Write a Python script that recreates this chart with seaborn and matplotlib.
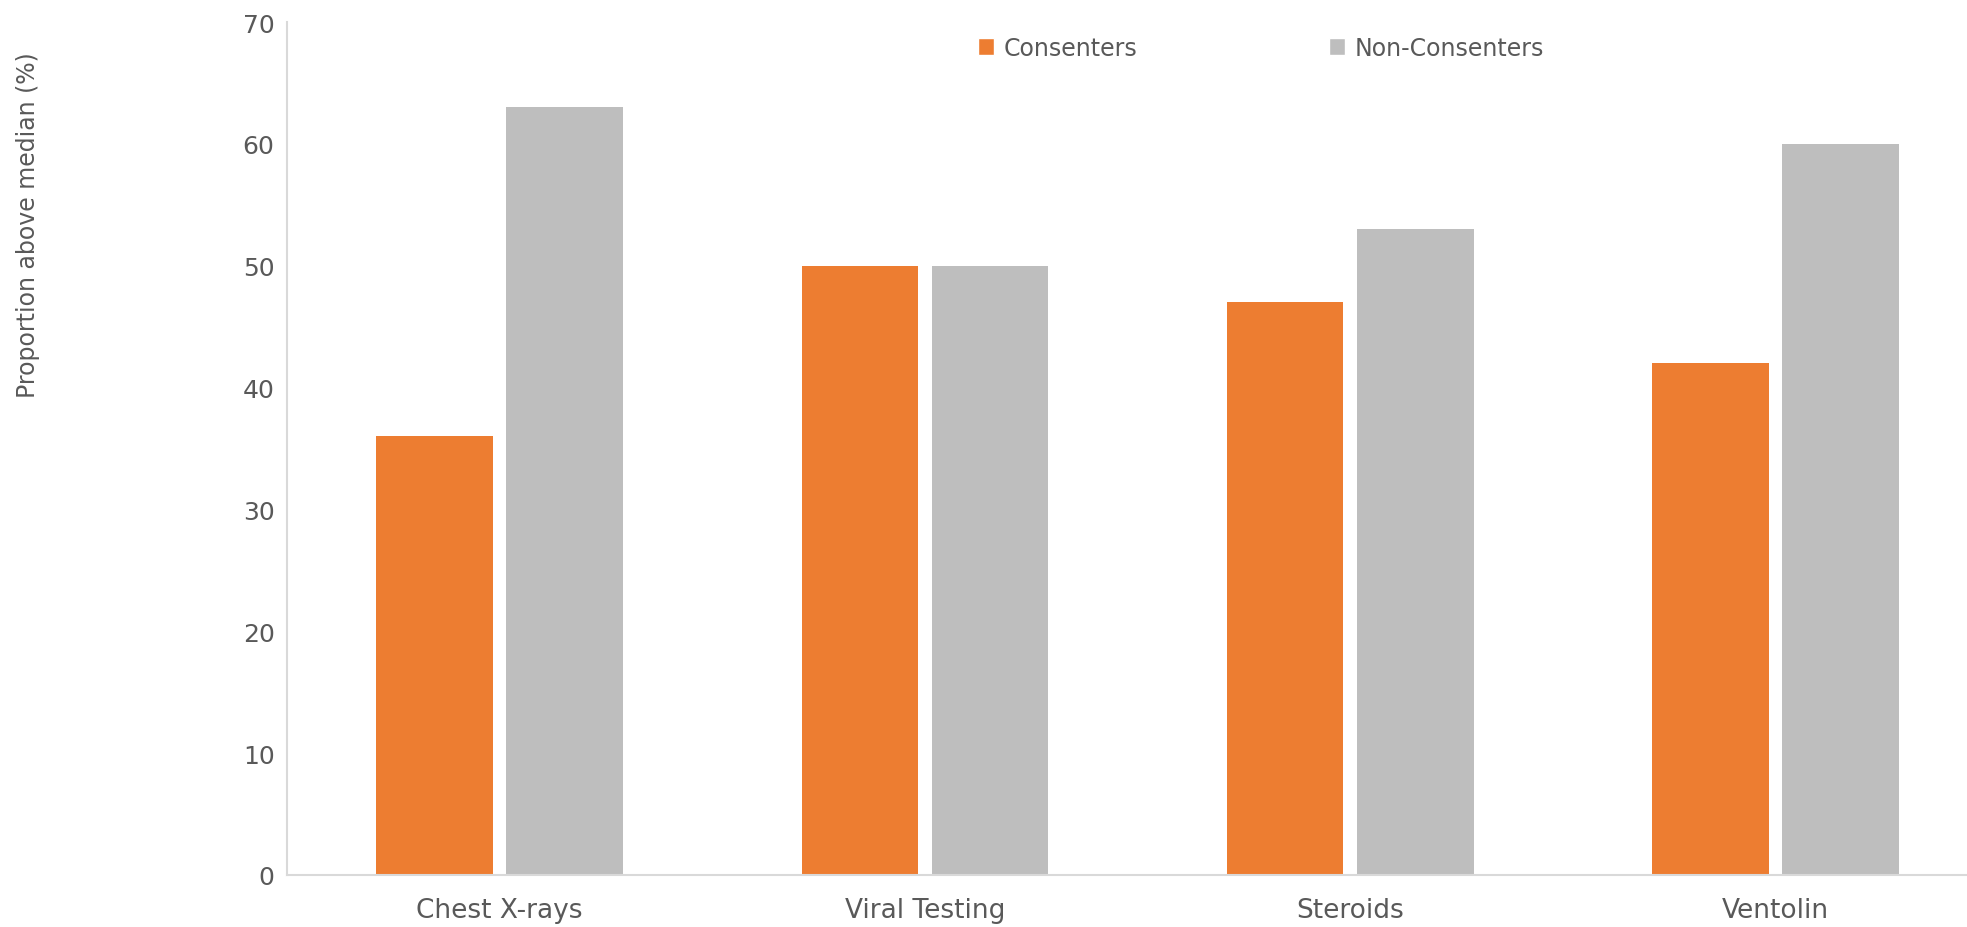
import matplotlib
matplotlib.use("Agg")
import matplotlib.pyplot as plt
from matplotlib.patches import Patch
import seaborn as sns
import pandas as pd

# chart data
categories = ["Chest X-rays", "Viral Testing", "Steroids", "Ventolin"]
consenters = [36, 50, 47, 42]
non_consenters = [63, 50, 53, 60]
groups = ["Consenters", "Non-Consenters"]
y_ticks = [0, 10, 20, 30, 40, 50, 60, 70]

ORANGE = "#ED7D31"
GREY = "#BEBEBE"
TEXT = "#595959"

sns.set_theme(style="white")
plt.rcParams["font.family"] = ["DejaVu Sans"]

df = pd.DataFrame({
    "category": categories * 2,
    "value": consenters + non_consenters,
    "group": [groups[0]] * len(categories) + [groups[1]] * len(categories),
})

fig = plt.figure(figsize=(19.67, 9.28), dpi=100)
ax = fig.add_axes([287 / 1967, 52 / 928, 1 - 287 / 1967, 853 / 928])

sns.barplot(data=df, x="category", y="value", hue="group", order=categories,
            hue_order=groups, palette=[ORANGE, GREY], width=0.612, gap=0.105,
            saturation=1, linewidth=0, legend=False, ax=ax)

ax.set_xlim(-0.5, 3.45)
ax.set_ylim(0, 70)
ax.set_yticks(y_ticks)
ax.set_yticklabels([str(t) for t in y_ticks], fontsize=18, color=TEXT)
ax.tick_params(axis="x", labelsize=19, colors=TEXT, pad=16, length=0)
ax.tick_params(axis="y", pad=9, length=0)
ax.set_xlabel("")
ax.set_ylabel("")

for side in ["top", "right"]:
    ax.spines[side].set_visible(False)
for side in ["left", "bottom"]:
    ax.spines[side].set_color("#D9D9D9")
    ax.spines[side].set_linewidth(1.5)

fig.text(28 / 1967, 1 - 225 / 928, "Proportion above median (%)", rotation=90,
         ha="center", va="center", fontsize=17, color=TEXT)

handles = [Patch(facecolor=ORANGE, label=groups[0]),
           Patch(facecolor=GREY, label=groups[1])]
fig.legend(handles=handles, loc="center", bbox_to_anchor=(1261 / 1967, 1 - 49 / 928),
           ncol=2, frameon=False, fontsize=17, handlelength=0.7, handleheight=0.7,
           handletextpad=0.4, columnspacing=8.1, labelcolor=TEXT)

fig.savefig("out.png", dpi=100)
